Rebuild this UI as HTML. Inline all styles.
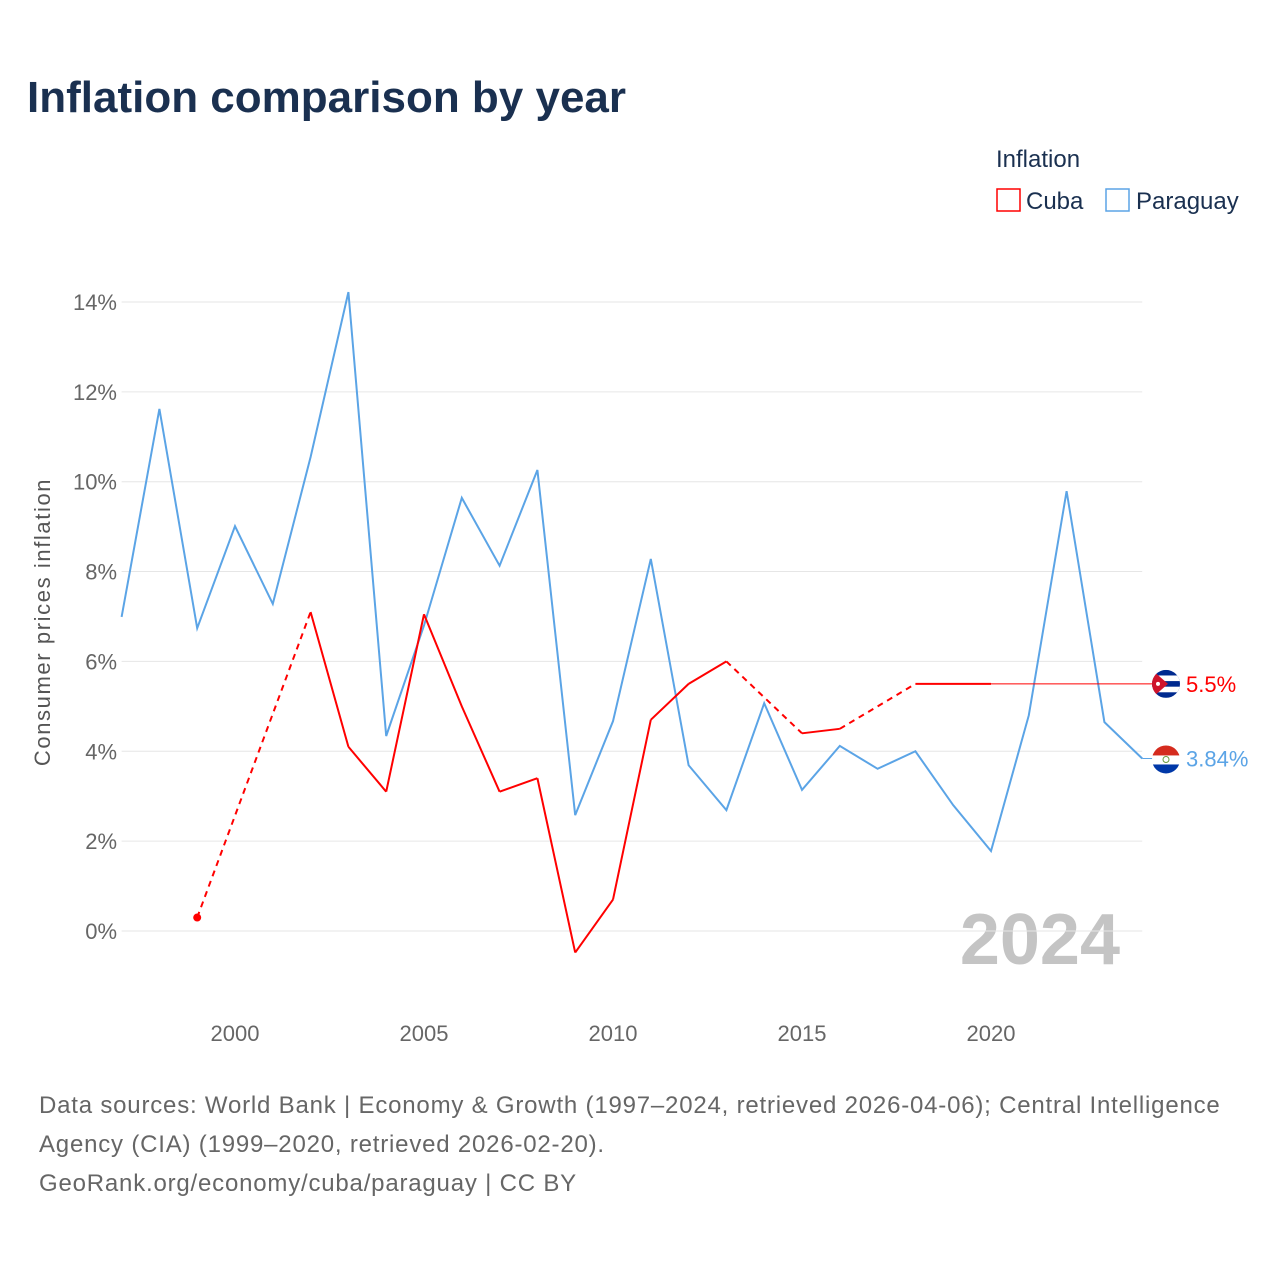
<!DOCTYPE html>
<html><head><meta charset="utf-8">
<style>
body{margin:0;background:#fff;font-family:"Liberation Sans",sans-serif;}
#wrap{position:relative;width:1280px;height:1280px;overflow:hidden;}
</style></head>
<body>
<div id="wrap">
<svg id="chart" width="1280" height="1280">
<text x="27" y="112" font-size="44" font-weight="bold" fill="#1a3050">Inflation comparison by year</text>
<g>
<text x="996" y="167" font-size="24" fill="#1a3050">Inflation</text>
<rect x="997" y="189" width="23" height="22" fill="none" stroke="#ff0000" stroke-width="1.5"/>
<text x="1026" y="209" font-size="24" fill="#1a3050">Cuba</text>
<rect x="1106" y="189" width="23" height="22" fill="none" stroke="#5ba4e6" stroke-width="1.5"/>
<text x="1136" y="209" font-size="24" fill="#1a3050">Paraguay</text>
</g>
<text transform="translate(50,622) rotate(-90)" text-anchor="middle" font-size="22" letter-spacing="1.6" fill="#555">Consumer prices inflation</text>
<text x="1120" y="964" text-anchor="end" font-size="72" font-weight="bold" fill="#c4c4c4">2024</text>
<g id="grid"></g><g id="series"></g>
<g font-size="24" fill="#666" letter-spacing="0.8">
<text x="39" y="1113">Data sources: World Bank | Economy &amp; Growth (1997–2024, retrieved 2026-04-06); Central Intelligence</text>
<text x="39" y="1152">Agency (CIA) (1999–2020, retrieved 2026-02-20).</text>
<text x="39" y="1191">GeoRank.org/economy/cuba/paraguay | CC BY</text>
</g>
</svg>
</div>
<script>
const years=[1997,1998,1999,2000,2001,2002,2003,2004,2005,2006,2007,2008,2009,2010,2011,2012,2013,2014,2015,2016,2017,2018,2019,2020,2021,2022,2023,2024];
const paraguay=[6.99,11.62,6.74,9.01,7.28,10.55,14.22,4.34,6.8,9.64,8.13,10.26,2.58,4.67,8.28,3.69,2.69,5.07,3.14,4.12,3.61,4.0,2.8,1.78,4.8,9.79,4.65,3.84];
const cuba=[null,null,0.3,null,null,7.1,4.1,3.1,7.05,5.0,3.1,3.4,-0.48,0.7,4.7,5.5,6.0,null,4.4,4.5,null,5.5,5.5,5.5,null,null,null,null];
const yTicks=[0,2,4,6,8,10,12,14];
const xTicks=[2000,2005,2010,2015,2020];
const NS="http://www.w3.org/2000/svg";
const X=y=>235+(y-2000)*37.8;
const Y=v=>931-v*44.93;
function mk(tag,attrs,parent){const e=document.createElementNS(NS,tag);for(const k in attrs)e.setAttribute(k,attrs[k]);parent.appendChild(e);return e;}
const grid=document.getElementById('grid'),ser=document.getElementById('series');
yTicks.forEach(t=>{
 const l=mk('line',{x1:X(1997),x2:X(2024),y1:Y(t),y2:Y(t),stroke:'#e6e6e6','stroke-width':1},grid);
 
 
 const tx=mk('text',{x:117,y:Y(t)+8,'text-anchor':'end','font-size':22,fill:'#666'},grid);
 tx.textContent=t+'%';
 
 
});
xTicks.forEach(t=>{
 const tx=mk('text',{x:X(t),y:1041,'text-anchor':'middle','font-size':22,fill:'#666'},grid);
 tx.textContent=t;
 
 
});
const pp=mk('path',{d:paraguay.map((v,i)=>(i?'L':'M')+X(years[i])+','+Y(v)).join(''),fill:'none',stroke:'#5ba4e6','stroke-width':2},ser);


let solid='',dashed='',prev=null;
cuba.forEach((v,i)=>{
 if(v===null)return;
 if(prev!==null){
  const seg='M'+X(years[prev])+','+Y(cuba[prev])+'L'+X(years[i])+','+Y(v);
  if(i-prev===1)solid+=seg;else dashed+=seg;
 }
 prev=i;
});
const cs=mk('path',{d:solid,fill:'none',stroke:'#ff0000','stroke-width':2},ser);


const cd=mk('path',{d:dashed,fill:'none',stroke:'#ff0000','stroke-width':2,'stroke-dasharray':'6,5'},ser);


const firstC=cuba.findIndex(v=>v!==null);
const dot=mk('circle',{cx:X(years[firstC]),cy:Y(cuba[firstC]),r:4,fill:'#ff0000'},ser);


let lastC=cuba.length-1;while(cuba[lastC]===null)lastC--;
const ext=mk('line',{x1:X(years[lastC]),x2:1160,y1:Y(cuba[lastC]),y2:Y(cuba[lastC]),stroke:'#ff0000','stroke-width':1},ser);


const lastP=paraguay[paraguay.length-1];
const pext=mk('line',{x1:X(2024),x2:1160,y1:Y(lastP),y2:Y(lastP),stroke:'#5ba4e6','stroke-width':1},ser);


function flag(cy,kind){
 const g=mk('g',{},ser);
 
 
 const id='clip'+kind;
 const cp=mk('clipPath',{id:id},g);mk('circle',{cx:1166,cy:cy,r:14},cp);
 const inner=mk('g',{'clip-path':'url(#'+id+')'},g);
 if(kind==='cuba'){
  mk('rect',{x:1152,y:cy-14,width:28,height:28,fill:'#002a8f'},inner);
  mk('rect',{x:1152,y:cy-8.4,width:28,height:5.6,fill:'#fff'},inner);
  mk('rect',{x:1152,y:cy+2.8,width:28,height:5.6,fill:'#fff'},inner);
  mk('path',{d:`M1152,${cy-14}L1168,${cy}L1152,${cy+14}Z`,fill:'#cf142b'},inner);
  mk('circle',{cx:1158,cy:cy,r:2,fill:'#fff'},inner);
 }else{
  mk('rect',{x:1152,y:cy-14,width:28,height:10,fill:'#d52b1e'},inner);
  mk('rect',{x:1152,y:cy-4,width:28,height:9,fill:'#fff'},inner);
  mk('rect',{x:1152,y:cy+5,width:28,height:10,fill:'#0038a8'},inner);
  mk('circle',{cx:1166,cy:cy,r:3,fill:'none',stroke:'#6a9a3a','stroke-width':1},inner);
 }
}
flag(Y(cuba[lastC]),'cuba');
flag(Y(lastP)+1,'paraguay');
const lc=mk('text',{x:1186,y:Y(cuba[lastC])+8,'font-size':22,fill:'#ff0000'},ser);
lc.textContent=cuba[lastC]+'%';


const lp=mk('text',{x:1186,y:Y(lastP)+8,'font-size':22,fill:'#5ba4e6'},ser);
lp.textContent=lastP+'%';


</script>
</body></html>
